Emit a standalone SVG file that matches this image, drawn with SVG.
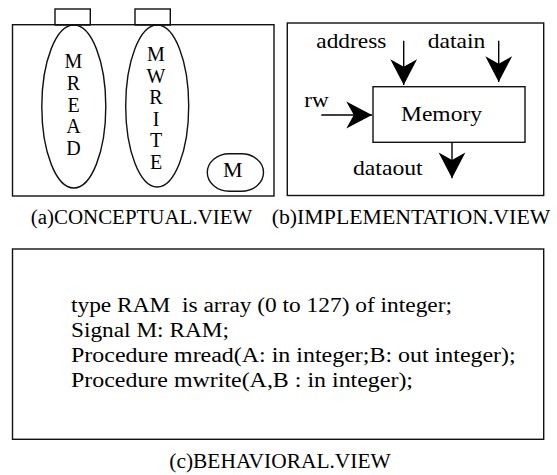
<svg xmlns="http://www.w3.org/2000/svg" width="557" height="475" viewBox="0 0 557 475">
<style>
.box{fill:none;stroke:#111;stroke-width:1.4}
.t,.lt,.cm,.cap,.lbl{font-family:'Liberation Serif','Times New Roman',serif;fill:#000}
.t{font-size:20px}
.lt{font-size:20px;text-anchor:middle}
.cm{font-size:22px;text-anchor:middle}
.cap{font-size:20px}
.lbl{font-size:21px}
.wire{fill:none;stroke:#000;stroke-width:1.4}
</style>
<defs>
<marker id="ah" markerUnits="userSpaceOnUse" markerWidth="30" markerHeight="30" viewBox="-26 -14 28 28" refX="0" refY="0" orient="auto">
<path d="M0,0 L-24,-12.5 L-17,0 L-24,12.5 Z" fill="#000"/>
</marker>
</defs>
<rect width="557" height="475" fill="#fff"/>

<g id="conceptual">
<rect class="box" x="12.5" y="24.7" width="261.5" height="171.3"/>
<rect class="box" x="55" y="9" width="35.3" height="16"/>
<rect class="box" x="135" y="9" width="35.3" height="16"/>
<g id="mread">
<ellipse class="box" cx="73.8" cy="106.5" rx="32" ry="81.5"/>
<text class="lt" x="73.5" y="68.3">M</text>
<text class="lt" x="73.5" y="90">R</text>
<text class="lt" x="73.5" y="111.7">E</text>
<text class="lt" x="73.5" y="133.4">A</text>
<text class="lt" x="73.5" y="155">D</text>
</g>
<g id="mwrite">
<ellipse class="box" cx="157.2" cy="106" rx="31.5" ry="81"/>
<text class="lt" x="156" y="61">M</text>
<text class="lt" x="156" y="82.5">W</text>
<text class="lt" x="156" y="104">R</text>
<text class="lt" x="156" y="125.5">I</text>
<text class="lt" x="156" y="147">T</text>
<text class="lt" x="156" y="168.5">E</text>
</g>
<g id="m">
<rect class="box" x="207.3" y="153.8" width="56.2" height="37.4" rx="22" ry="18.7"/>
<text class="cm" x="232.7" y="176.5">M</text>
</g>
<text class="cap" x="30.7" y="224" textLength="221.6" lengthAdjust="spacingAndGlyphs">(a)CONCEPTUAL.VIEW</text>
</g>

<g id="implementation">
<rect class="box" x="287.3" y="23" width="256.4" height="172.5"/>
<g id="memory">
<rect class="box" x="373" y="86.7" width="152" height="55.6"/>
<text class="lbl" x="401" y="120.5" textLength="81" lengthAdjust="spacingAndGlyphs">Memory</text>
</g>
<text class="lbl" x="316.3" y="47.7" textLength="70" lengthAdjust="spacingAndGlyphs">address</text>
<text class="lbl" x="427.7" y="47.7" textLength="57.6" lengthAdjust="spacingAndGlyphs">datain</text>
<text class="lbl" x="304.3" y="106.7" textLength="24.4" lengthAdjust="spacingAndGlyphs">rw</text>
<text class="lbl" x="353" y="175" textLength="69.7" lengthAdjust="spacingAndGlyphs">dataout</text>
<text class="cap" x="271.7" y="224" textLength="278.6" lengthAdjust="spacingAndGlyphs">(b)IMPLEMENTATION.VIEW</text>
</g>

<g id="connectors">
<line class="wire" x1="403.7" y1="40.7" x2="403.7" y2="85" marker-end="url(#ah)"/>
<line class="wire" x1="498.7" y1="40.7" x2="498.7" y2="82" marker-end="url(#ah)"/>
<line class="wire" x1="321.3" y1="115" x2="372" y2="115" marker-end="url(#ah)"/>
<line class="wire" x1="452" y1="142.3" x2="452" y2="178.3" marker-end="url(#ah)"/>
</g>

<g id="behavioral">
<rect class="box" x="12.5" y="249" width="531.2" height="190.3"/>
<text class="t" x="71" y="311.5" xml:space="preserve" textLength="381" lengthAdjust="spacingAndGlyphs">type RAM  is array (0 to 127) of integer;</text>
<text class="t" x="71" y="336.5" textLength="158" lengthAdjust="spacingAndGlyphs">Signal M: RAM;</text>
<text class="t" x="71" y="361.5" textLength="444.7" lengthAdjust="spacingAndGlyphs">Procedure mread(A: in integer;B: out integer);</text>
<text class="t" x="71" y="386.8" textLength="342" lengthAdjust="spacingAndGlyphs">Procedure mwrite(A,B : in integer);</text>
<text class="cap" x="169.3" y="468.3" textLength="221.4" lengthAdjust="spacingAndGlyphs">(c)BEHAVIORAL.VIEW</text>
</g>
</svg>
